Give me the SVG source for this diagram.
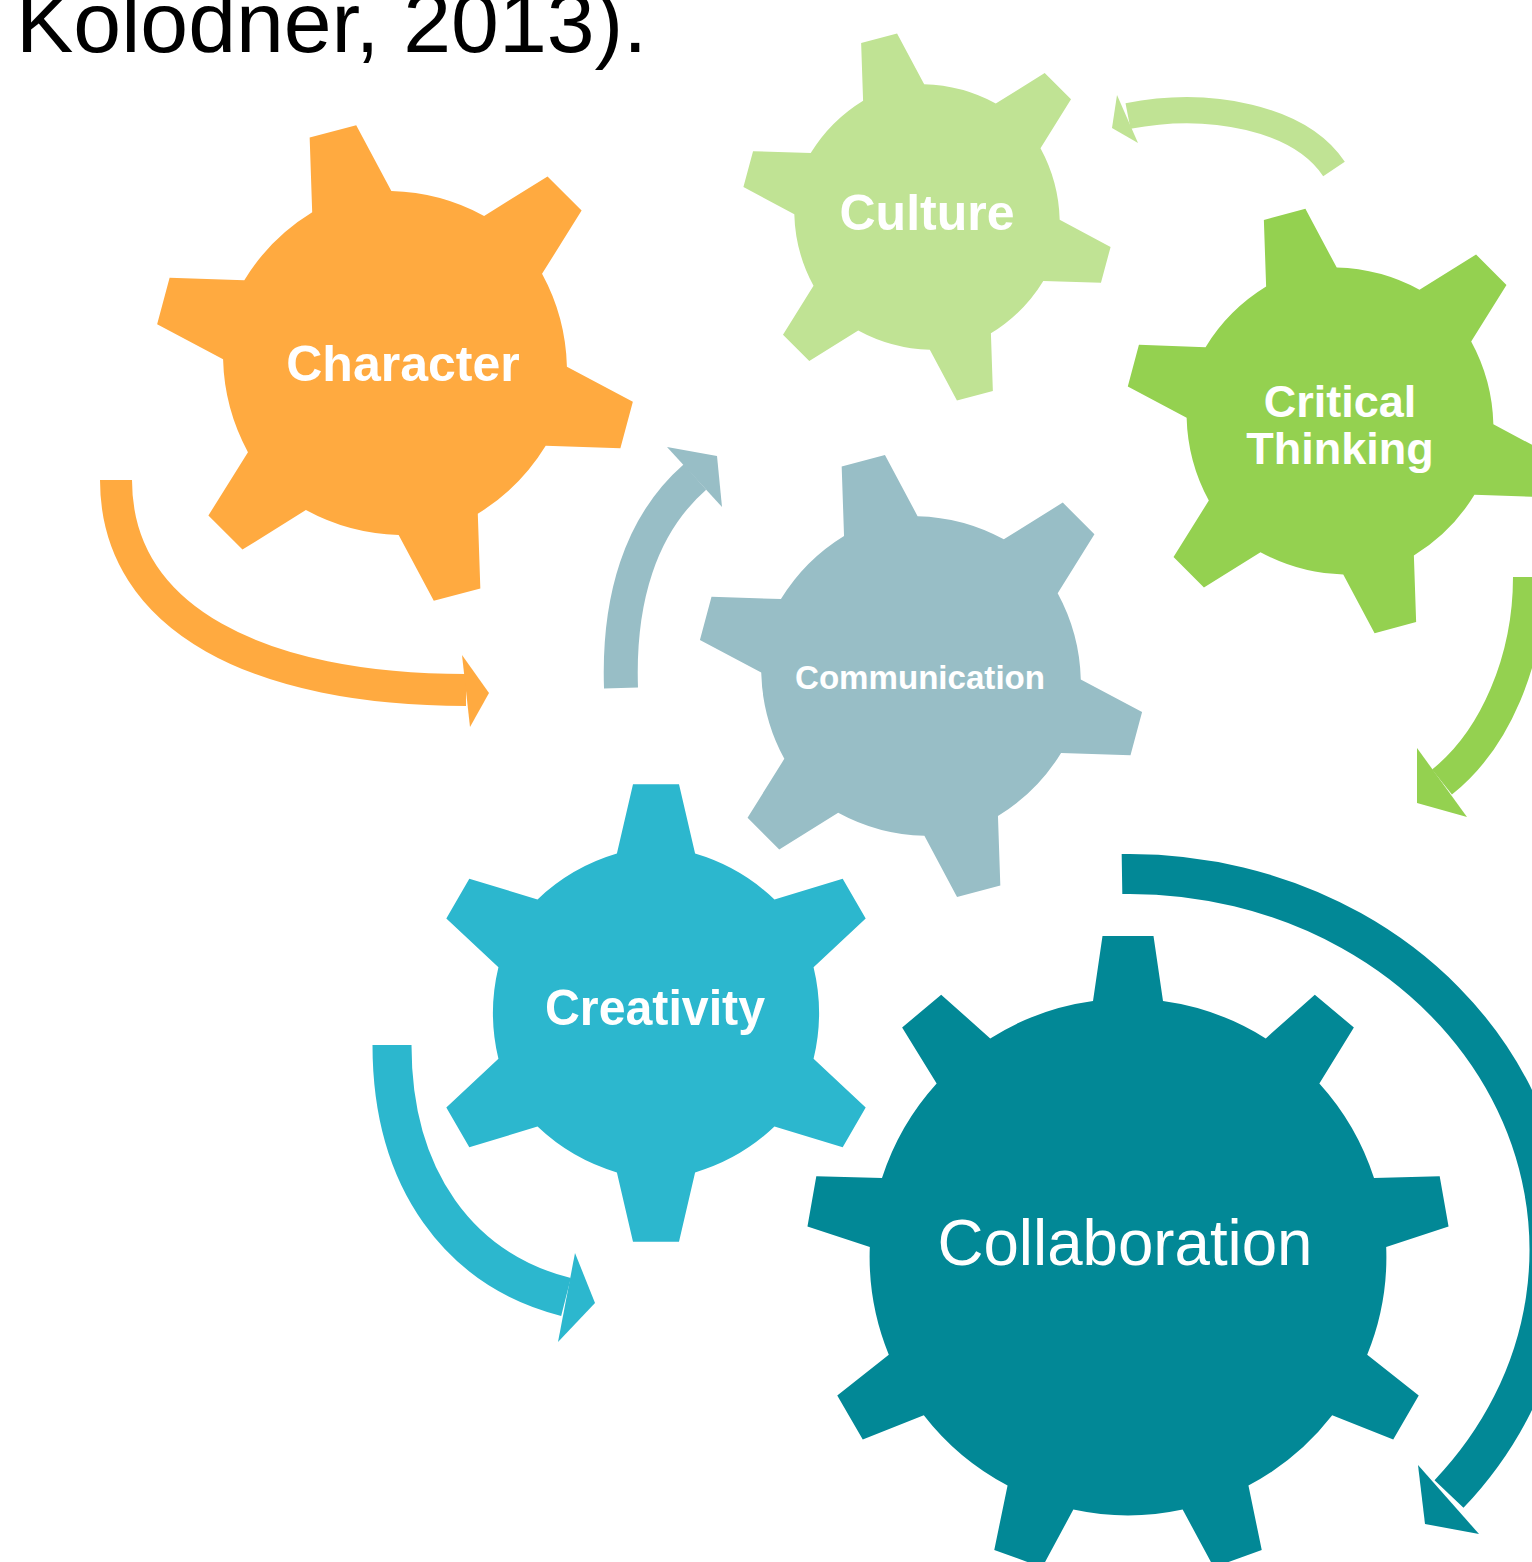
<svg xmlns="http://www.w3.org/2000/svg" width="1532" height="1562" viewBox="0 0 1532 1562">
<style>
.lbl{font-family:"Liberation Sans",Arial,sans-serif;font-weight:bold;fill:#ffffff;text-anchor:middle}
.shaft{fill:none;stroke-linecap:butt}
</style>
<defs>
<path id="gear6" d="M -17,-69.3 L -10,-99.5 L 10,-99.5 L 17,-69.3 A 85 85 0 0 1 51.51,-49.37 L 81.17,-58.41 L 91.17,-41.09 L 68.51,-19.93 A 85 85 0 0 1 68.51,19.93 L 91.17,41.09 L 81.17,58.41 L 51.51,49.37 A 85 85 0 0 1 17,69.3 L 10,99.5 L -10,99.5 L -17,69.3 A 85 85 0 0 1 -51.51,49.37 L -81.17,58.41 L -91.17,41.09 L -68.51,19.93 A 85 85 0 0 1 -68.51,-19.93 L -91.17,-41.09 L -81.17,-58.41 L -51.51,-49.37 A 85 85 0 0 1 -17,-69.3 Z"/>
<path id="gear9" d="M -35,-256 L -25.5,-321 L 25.5,-321 L 35,-256 A 258.4 258.4 0 0 1 137.75,-218.6 L 186.81,-262.28 L 225.87,-229.5 L 191.37,-173.6 A 258.4 258.4 0 0 1 246.03,-78.91 L 311.69,-80.84 L 320.55,-30.62 L 258.19,-9.97 A 258.4 258.4 0 0 1 239.2,97.69 L 290.74,138.42 L 265.24,182.58 L 204.2,158.31 A 258.4 258.4 0 0 1 120.44,228.59 L 133.74,292.92 L 85.82,310.36 L 54.66,252.53 A 258.4 258.4 0 0 1 -54.66,252.53 L -85.82,310.36 L -133.74,292.92 L -120.44,228.59 A 258.4 258.4 0 0 1 -204.2,158.31 L -265.24,182.58 L -290.74,138.42 L -239.2,97.69 A 258.4 258.4 0 0 1 -258.19,-9.97 L -320.55,-30.62 L -311.69,-80.84 L -246.03,-78.91 A 258.4 258.4 0 0 1 -191.37,-173.6 L -225.87,-229.5 L -186.81,-262.28 L -137.75,-218.6 A 258.4 258.4 0 0 1 -35,-256 Z"/>
</defs>
<rect width="1532" height="1562" fill="#ffffff"/>
<text x="16" y="52" font-family="Liberation Sans, Arial, sans-serif" font-size="86" fill="#000000">Kolodner, 2013).</text>

<g id="connectors">
  <g id="arrow-character">
    <path class="shaft" d="M 116,480 C 116,620 260,690 466,690" stroke="#FFAA40" stroke-width="32"/>
    <polygon points="462,655 489,693 470,727" fill="#FFAA40"/>
  </g>
  <g id="arrow-communication">
    <path class="shaft" d="M 621,688 C 618,600 640,525 695,477" stroke="#98BEC6" stroke-width="34"/>
    <polygon points="667,447 717,456 722,507" fill="#98BEC6"/>
  </g>
  <g id="arrow-culture">
    <path class="shaft" d="M 1334,169 C 1300,118 1210,100 1128,116" stroke="#C0E394" stroke-width="26"/>
    <polygon points="1117,95 1112,128 1138,143" fill="#C0E394"/>
  </g>
  <g id="arrow-critical">
    <path class="shaft" d="M 1529,577 C 1529,660 1495,740 1442,782" stroke="#94D150" stroke-width="32"/>
    <polygon points="1417,748 1417,803 1467,817" fill="#94D150"/>
  </g>
  <g id="arrow-creativity">
    <path class="shaft" d="M 392,1045 C 392,1180 460,1270 566,1297" stroke="#2CB7CE" stroke-width="39"/>
    <polygon points="575,1253 595,1303 558,1342" fill="#2CB7CE"/>
  </g>
  <g id="arrow-collaboration">
    <path class="shaft" d="M 1122,874 A 420 376 0 0 1 1449,1494" stroke="#028896" stroke-width="40"/>
    <polygon points="1418,1465 1425,1524 1479,1534" fill="#028896"/>
  </g>
</g>

<g id="node-character">
  <use href="#gear6" transform="translate(395,363) rotate(-15) scale(2.41)" fill="#FFAA40"/>
  <text class="lbl" x="403" y="381" font-size="50">Character</text>
</g>
<g id="node-culture">
  <use href="#gear6" transform="translate(927,217) rotate(-15) scale(1.86)" fill="#C0E394"/>
  <text class="lbl" x="927" y="230" font-size="50">Culture</text>
</g>
<g id="node-critical-thinking">
  <use href="#gear6" transform="translate(1340,421) rotate(-15) scale(2.15)" fill="#94D150"/>
  <text class="lbl" x="1340" y="417" font-size="45">Critical</text>
  <text class="lbl" x="1340" y="464" font-size="45">Thinking</text>
</g>
<g id="node-communication">
  <use href="#gear6" transform="translate(921,676) rotate(-15) scale(2.24)" fill="#98BEC6"/>
  <text class="lbl" x="920" y="689" font-size="33" textLength="250" lengthAdjust="spacingAndGlyphs">Communication</text>
</g>
<g id="node-creativity">
  <use href="#gear6" transform="translate(656,1013) scale(2.30)" fill="#2CB7CE"/>
  <text class="lbl" x="655" y="1025" font-size="50" textLength="220" lengthAdjust="spacingAndGlyphs">Creativity</text>
</g>
<g id="node-collaboration">
  <use href="#gear9" transform="translate(1128,1257)" fill="#028896"/>
  <text x="1125" y="1265" font-family="Liberation Sans, Arial, sans-serif" font-size="64" fill="#ffffff" text-anchor="middle" textLength="375" lengthAdjust="spacingAndGlyphs">Collaboration</text>
</g>
</svg>
